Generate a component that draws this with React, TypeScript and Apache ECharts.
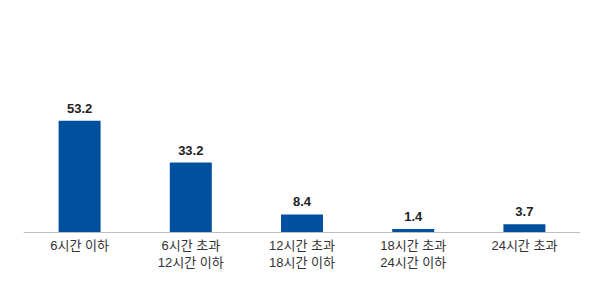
import React, { useEffect, useRef } from "react";
import * as echarts from "echarts";

const categories = ["6시간 이하", "6시간 초과\n12시간 이하", "12시간 초과\n18시간 이하", "18시간 초과\n24시간 이하", "24시간 초과"];
const values = [53.2, 33.2, 8.4, 1.4, 3.7];

export default function App() {
  const ref = useRef<HTMLDivElement>(null);
  useEffect(() => {
    const chart = echarts.init(ref.current!, null, { renderer: "svg" });
    chart.setOption({
      animation: false,
      grid: { left: 24, right: 24, top: 23, bottom: 52 },
      xAxis: {
        type: "category",
        data: categories,
        axisLine: { lineStyle: { color: "#bfbfbf", width: 1 } },
        axisTick: { show: false },
        axisLabel: {
          interval: 0,
          color: "#333",
          fontSize: 13,
          lineHeight: 17,
          margin: 5,
          fontFamily: "'Liberation Sans', 'Noto Sans CJK KR', sans-serif",
        },
      },
      yAxis: { type: "value", min: 0, max: 100, show: false, splitLine: { show: false } },
      series: [
        {
          type: "bar",
          data: values,
          barWidth: 42,
          itemStyle: { color: "#0050a0" },
          label: {
            show: true,
            position: "top",
            distance: 6,
            color: "#222",
            fontWeight: "bold",
            fontSize: 13,
            fontFamily: "'Liberation Sans', Arial, sans-serif",
            formatter: (p: any) => p.value.toFixed(1),
          },
        },
      ],
    });
    return () => chart.dispose();
  }, []);
  return <div ref={ref} style={{ width: 604, height: 284, position: "absolute", left: 0, top: 0 }} />;
}
